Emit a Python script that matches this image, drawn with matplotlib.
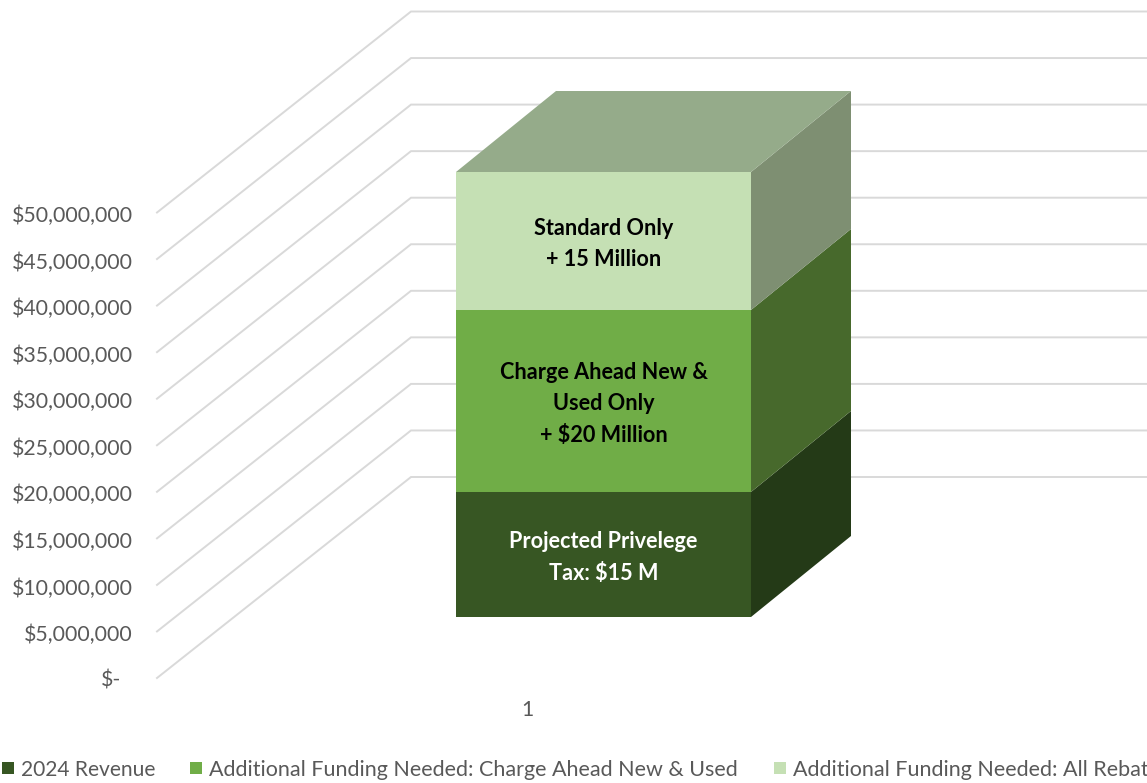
import matplotlib
matplotlib.use("Agg")
import matplotlib.pyplot as plt
from matplotlib.patches import Polygon, Rectangle

plt.rcParams['font.family'] = ['Lato', 'DejaVu Sans']

W, H = 1147, 783
tick_labels = ["$-", "$5,000,000", "$10,000,000", "$15,000,000", "$20,000,000", "$25,000,000",
               "$30,000,000", "$35,000,000", "$40,000,000", "$45,000,000", "$50,000,000"]
tick_values = [0, 5, 10, 15, 20, 25, 30, 35, 40, 45, 50]
series_names = ["2024 Revenue", "Additional Funding Needed: Charge Ahead New & Used",
                "Additional Funding Needed: All Rebates"]
series_values = [15, 20, 15]
front_colors = ["#375623", "#70AD47", "#C5E0B4"]
side_colors = ["#243A17", "#47692C", "#7E8F72"]
top_color = "#95AB8A"
bar_labels = ["Projected Privelege\nTax: \\$15 M", "Charge Ahead New &\nUsed Only\n+ \\$20 Million",
              "Standard Only\n+ 15 Million"]
label_colors = ["white", "black", "black"]
category = "1"

fig = plt.figure(figsize=(W/100, H/100), dpi=100)
ax = fig.add_axes([0, 0, 1, 1])
ax.set_xlim(0, W); ax.set_ylim(H, 0); ax.axis("off")

# value -> pixel at the front plane of the chart
def yf(v):
    return 678 - v * 9.31
dx, dy = 254, -201  # depth of the floor/wall
grid = "#D9D9D9"
for v, lab in zip(tick_values, tick_labels):
    y = yf(v)
    ax.plot([157, 157+dx, W], [y, y+dy, y+dy], color=grid, lw=1.4, zorder=1, solid_joinstyle="miter")
    ax.text(133 if v else 121, y+(3.5 if v else 2.5), lab, ha="right", va="center", fontsize=15.3, color="#595959")

# bar
xl, xr = 456, 751
bdx, bdy = 100, -81
y0 = 617
scales = [125/15, 182/20, 138/15]
cur = y0
for val, fc, sc, s, lab, lc in zip(series_values, front_colors, side_colors, scales, bar_labels, label_colors):
    top = cur - val * s
    ax.add_patch(Rectangle((xl, top), xr-xl, cur-top, fc=fc, ec="none", zorder=3))
    ax.add_patch(Polygon([(xr, cur), (xr+bdx, cur+bdy), (xr+bdx, top+bdy), (xr, top)], fc=sc, ec="none", zorder=3))
    ax.text((xl+xr)/2, (cur+top)/2+3, lab, ha="center", va="center", fontsize=15.6, fontweight="bold",
            color=lc, zorder=4, linespacing=1.6)
    cur = top
ax.add_patch(Polygon([(xl, cur), (xr, cur), (xr+bdx, cur+bdy), (xl+bdx, cur+bdy)], fc=top_color, ec="none", zorder=3))

ax.text(527, 710, category, ha="center", va="center", fontsize=15.3, color="#595959")

# legend
leg_x = [2, 190, 774]
leg_sizes = [15.1, 15.5, 15.5]
for x, name, c, fs in zip(leg_x, series_names, front_colors, leg_sizes):
    ax.add_patch(Rectangle((x, 762), 12, 12, fc=c, ec="none", zorder=3))
    ax.text(x+19, 770, name, ha="left", va="center", fontsize=fs, color="#595959", clip_on=True)

fig.savefig("out.png", dpi=100)
